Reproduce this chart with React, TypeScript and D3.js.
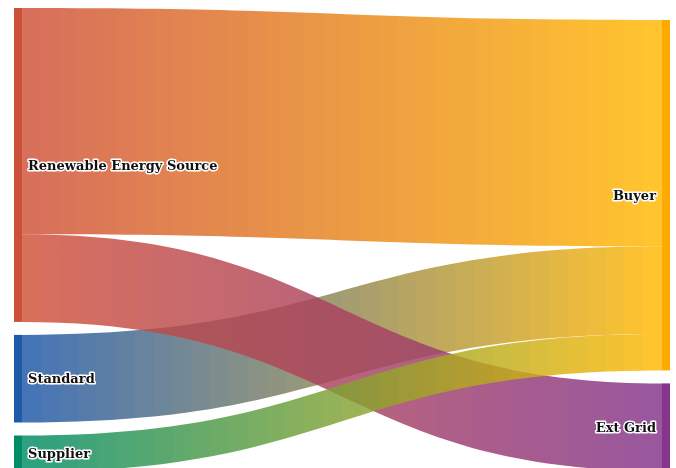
import React from "react";
import * as d3 from "d3";

const nodeNames = ["Renewable Energy Source", "Standard", "Supplier", "Buyer", "Ext Grid"];
const nodeColumns = [0, 0, 0, 1, 1];
const nodeColors = ["#cc4f38", "#1d5ba6", "#008c66", "#ffaa00", "#86358a"];
const linkBaseColors = ["#cf5037", "#1d56a6", "#008c64", "#ffb700", "#833288"];

const linkSources = [0, 1, 0, 2];
const linkTargets = [3, 3, 4, 3];
const linkValues = [62, 24, 24, 10];

const W = 676;
const H = 468;
const columnTops = [8, 20];
const columnX = [14, 662];
const nodeWidth = 8;
const nodePad = 13;
const leftExtent = 464;
const linkOpacity = 0.82;
const curveness = 0.5;
const steps = 34;

export default function App() {
  const n = nodeNames.length;
  const outSum = nodeNames.map((_, i) => d3.sum(linkValues.filter((_, j) => linkSources[j] === i)));
  const inSum = nodeNames.map((_, i) => d3.sum(linkValues.filter((_, j) => linkTargets[j] === i)));
  const nodeValue = nodeNames.map((_, i) => Math.max(outSum[i], inSum[i]));

  const col0 = d3.range(n).filter((i) => nodeColumns[i] === 0);
  const col0Total = d3.sum(col0.map((i) => nodeValue[i]));
  const ky = d3
    .scaleLinear()
    .domain([0, col0Total])
    .range([0, leftExtent - (col0.length - 1) * nodePad]);

  const nodes = nodeNames.map((name, i) => ({ name, i, col: nodeColumns[i], y0: 0, y1: 0, x0: columnX[nodeColumns[i]], x1: columnX[nodeColumns[i]] + nodeWidth }));
  [0, 1].forEach((c) => {
    let y = columnTops[c];
    nodes
      .filter((d) => d.col === c)
      .forEach((d) => {
        d.y0 = y;
        d.y1 = y + ky(nodeValue[d.i]);
        y = d.y1 + nodePad;
      });
  });

  const srcOffset = nodes.map((d) => d.y0);
  const tgtOffset = nodes.map((d) => d.y0);
  const links = linkValues.map((v, j) => ({ j, s: linkSources[j], t: linkTargets[j], v, sy: 0, ty: 0, w: ky(v) }));
  const bySrc = [...links].sort((a, b) => a.s - b.s || nodes[a.t].y0 - nodes[b.t].y0);
  bySrc.forEach((l) => {
    l.sy = srcOffset[l.s];
    srcOffset[l.s] += l.w;
  });
  const byTgt = [...links].sort((a, b) => a.t - b.t || nodes[a.s].y0 - nodes[b.s].y0);
  byTgt.forEach((l) => {
    l.ty = tgtOffset[l.t];
    tgtOffset[l.t] += l.w;
  });

  const linkPath = (l: any) => {
    const x1 = nodes[l.s].x1;
    const x2 = nodes[l.t].x0;
    const cx1 = x1 + (x2 - x1) * curveness;
    const cx2 = x2 - (x2 - x1) * curveness;
    const p = d3.path();
    p.moveTo(x1, l.sy);
    p.bezierCurveTo(cx1, l.sy, cx2, l.ty, x2, l.ty);
    p.lineTo(x2, l.ty + l.w);
    p.bezierCurveTo(cx2, l.ty + l.w, cx1, l.sy + l.w, x1, l.sy + l.w);
    p.closePath();
    return p.toString();
  };

  const stops = (s: number, t: number) => {
    const interp = d3.interpolateRgb(linkBaseColors[s], linkBaseColors[t]);
    const out: any[] = [];
    for (let k = 0; k < steps; k++) {
      const c = interp(k / (steps - 1));
      out.push(<stop key={`a${k}`} offset={k / steps} stopColor={c} />);
      out.push(<stop key={`b${k}`} offset={(k + 1) / steps} stopColor={c} />);
    }
    return out;
  };

  return (
    <svg width={W} height={H} style={{ position: "fixed", left: 0, top: 0 }}>
      <defs>
        {links.map((l) => (
          <linearGradient
            key={l.j}
            id={`g${l.j}`}
            gradientUnits="userSpaceOnUse"
            x1={nodes[l.s].x1}
            x2={nodes[l.t].x0}
            y1={0}
            y2={0}
          >
            {stops(l.s, l.t)}
          </linearGradient>
        ))}
      </defs>
      <g>
        {links.map((l) => (
          <path key={l.j} d={linkPath(l)} fill={`url(#g${l.j})`} fillOpacity={linkOpacity} />
        ))}
      </g>
      <g>
        {nodes.map((d) => (
          <rect key={d.i} x={d.x0} y={d.y0} width={d.x1 - d.x0} height={d.y1 - d.y0} fill={nodeColors[d.i]} />
        ))}
      </g>
      <g style={{ fontFamily: "'DejaVu Serif', serif", fontWeight: 700, fontSize: 13 }}>
        {nodes.map((d) => (
          <text
            key={d.i}
            x={d.col === 0 ? d.x1 + 6 : d.x0 - 6}
            y={(d.y0 + d.y1) / 2}
            dy="0.35em"
            textAnchor={d.col === 0 ? "start" : "end"}
            fill="#111"
            stroke="#fff"
            strokeWidth={3}
            strokeLinejoin="round"
            paintOrder="stroke"
          >
            {d.name}
          </text>
        ))}
      </g>
    </svg>
  );
}
